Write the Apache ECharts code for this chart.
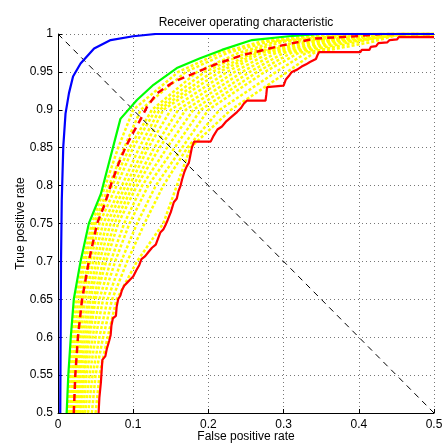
<!DOCTYPE html>
<html>
<head>
<meta charset="utf-8">
<script src="https://cdn.jsdelivr.net/npm/echarts@6/dist/echarts.min.js"></script>
<style>html,body{margin:0;padding:0;background:#fff}#c{width:444px;height:443px}</style>
</head>
<body>
<div id="c"></div>
<script>
const xTicks = [0, 0.1, 0.2, 0.3, 0.4, 0.5];
const yTicks = [0.5, 0.55, 0.6, 0.65, 0.7, 0.75, 0.8, 0.85, 0.9, 0.95, 1];

const bluePts = [[0.003,0.5],[0.004,0.7],[0.005,0.78],[0.007,0.851],[0.010,0.895],[0.0146,0.922],[0.020,0.944],[0.030,0.961],[0.048,0.981],[0.070,0.992],[0.10,0.997],[0.13,1.0],[0.5,1.0]];
const greenPts = [[0.0115,0.5],[0.0137,0.55],[0.017,0.6],[0.021,0.65],[0.030,0.70],[0.041,0.75],[0.057,0.789],[0.083,0.888],[0.105,0.913],[0.127,0.933],[0.158,0.955],[0.189,0.968],[0.218,0.979],[0.258,0.992],[0.307,0.997],[0.35,1.0],[0.5,1.0]];
const redDashPts = [[0.021,0.5],[0.023,0.55],[0.0265,0.6],[0.032,0.65],[0.041,0.70],[0.052,0.75],[0.062,0.775],[0.071,0.803],[0.081,0.83],[0.090,0.851],[0.100,0.870],[0.109,0.886],[0.119,0.905],[0.132,0.922],[0.154,0.937],[0.176,0.946],[0.212,0.961],[0.245,0.972],[0.298,0.985],[0.342,0.994],[0.395,0.997],[0.43,1.0],[0.5,1.0]];
const redPts = [[0.054,0.5],[0.055,0.52],[0.057,0.54],[0.058,0.555],[0.059,0.57],[0.063,0.575],[0.065,0.585],[0.068,0.595],[0.070,0.603],[0.071,0.615],[0.073,0.625],[0.077,0.628],[0.078,0.64],[0.080,0.65],[0.083,0.655],[0.085,0.662],[0.088,0.668],[0.092,0.672],[0.096,0.676],[0.100,0.68],[0.104,0.688],[0.108,0.695],[0.111,0.703],[0.116,0.707],[0.120,0.712],[0.125,0.718],[0.130,0.722],[0.133,0.73],[0.136,0.738],[0.140,0.742],[0.143,0.748],[0.146,0.755],[0.150,0.765],[0.154,0.778],[0.158,0.783],[0.160,0.792],[0.163,0.800],[0.165,0.808],[0.168,0.818],[0.171,0.825],[0.174,0.830],[0.176,0.840],[0.178,0.850],[0.181,0.858],[0.203,0.858],[0.207,0.866],[0.212,0.874],[0.218,0.878],[0.223,0.884],[0.231,0.891],[0.238,0.897],[0.243,0.902],[0.247,0.908],[0.251,0.912],[0.276,0.912],[0.277,0.92],[0.278,0.93],[0.300,0.932],[0.303,0.94],[0.308,0.946],[0.311,0.950],[0.318,0.953],[0.324,0.957],[0.330,0.960],[0.335,0.963],[0.343,0.967],[0.345,0.972],[0.347,0.976],[0.402,0.976],[0.404,0.979],[0.414,0.979],[0.416,0.983],[0.423,0.984],[0.426,0.988],[0.438,0.989],[0.441,0.992],[0.451,0.993],[0.453,0.996],[0.5,0.996]];
const diagPts = [[0,1],[0.5,0.5]];

const yellowLevels = [0.5,0.55,0.6,0.65,0.7,0.75,0.8,0.85,0.9,0.95,0.975,0.99,1.0];
const yellowX = [
  [0.013,0.016,0.019,0.024,0.033,0.045,0.063,0.080,0.100,0.160,0.215,0.270,0.36],
  [0.016,0.019,0.022,0.027,0.036,0.048,0.068,0.088,0.110,0.170,0.225,0.28,0.38],
  [0.018,0.021,0.025,0.030,0.040,0.050,0.072,0.095,0.125,0.185,0.24,0.29,0.40],
  [0.020,0.023,0.027,0.033,0.043,0.055,0.078,0.100,0.130,0.195,0.25,0.30,0.41],
  [0.022,0.026,0.030,0.036,0.047,0.060,0.085,0.108,0.135,0.205,0.26,0.32,0.42],
  [0.024,0.028,0.033,0.040,0.051,0.065,0.090,0.115,0.140,0.215,0.265,0.33,0.43],
  [0.026,0.030,0.036,0.043,0.055,0.070,0.095,0.120,0.150,0.225,0.27,0.34,0.44],
  [0.028,0.033,0.039,0.047,0.060,0.075,0.100,0.128,0.160,0.235,0.28,0.35,0.44],
  [0.030,0.035,0.042,0.050,0.064,0.080,0.105,0.135,0.170,0.245,0.29,0.36,0.45],
  [0.033,0.038,0.046,0.055,0.070,0.088,0.112,0.145,0.180,0.255,0.30,0.37,0.45],
  [0.036,0.042,0.050,0.060,0.076,0.095,0.120,0.155,0.190,0.265,0.31,0.38,0.46],
  [0.040,0.046,0.055,0.066,0.084,0.105,0.130,0.165,0.200,0.275,0.32,0.39,0.46],
  [0.045,0.050,0.060,0.072,0.092,0.115,0.140,0.172,0.215,0.29,0.33,0.40,0.46],
  [0.050,0.055,0.066,0.078,0.105,0.140,0.158,0.176,0.230,0.305,0.34,0.42,0.455]
];

const FONT = 'Liberation Sans, Arial, sans-serif';
const FS = 12;
const series = [];
yellowX.forEach(function (xs) {
  series.push({
    type: 'line', showSymbol: false, silent: true,
    data: xs.map(function (x, i) { return [x, yellowLevels[i]]; }).concat([[0.5, 1.0]]),
    lineStyle: { color: '#ffff00', width: 2.5, type: [3, 2] }
  });
});
series.push({ type: 'line', showSymbol: false, data: diagPts, lineStyle: { color: '#000', width: 1, type: [6, 5] } });
series.push({ type: 'line', showSymbol: false, data: greenPts, lineStyle: { color: '#00ff00', width: 2.2 } });
series.push({ type: 'line', showSymbol: false, data: redDashPts, lineStyle: { color: '#ff0000', width: 2.5, type: [7, 5] } });
series.push({ type: 'line', showSymbol: false, data: redPts, lineStyle: { color: '#ff0000', width: 2.2 } });
series.push({ type: 'line', showSymbol: false, data: bluePts, lineStyle: { color: '#0000ff', width: 2.2 } });

const chart = echarts.init(document.getElementById('c'), null, { renderer: 'canvas' });
chart.setOption({
  animation: false,
  backgroundColor: '#fff',
  title: {
    text: 'Receiver operating characteristic',
    left: 246, top: 17, padding: 0, textAlign: 'center',
    textStyle: { fontFamily: FONT, fontSize: FS, fontWeight: 'normal', color: '#000' }
  },
  grid: { left: 58, right: 10, top: 34, bottom: 30, containLabel: false, outerBoundsMode: 'none' },
  xAxis: {
    type: 'value', min: xTicks[0], max: xTicks[xTicks.length - 1], interval: 0.1,
    name: 'False positive rate', nameLocation: 'middle', nameGap: 18, nameMoveOverlap: false,
    nameTextStyle: { fontFamily: FONT, fontSize: FS, color: '#000' },
    axisLine: { onZero: false, lineStyle: { color: '#000', width: 1 } },
    axisTick: { inside: true, length: 4, lineStyle: { color: '#000' } },
    axisLabel: { fontFamily: FONT, fontSize: FS, color: '#000', margin: 6, formatter: function (v) { return String(+v.toFixed(2)); } },
    splitLine: { show: true, lineStyle: { color: '#777', width: 1, type: [1, 3] } }
  },
  yAxis: {
    type: 'value', min: yTicks[0], max: yTicks[yTicks.length - 1], interval: 0.05,
    name: 'True positive rate', nameLocation: 'middle', nameGap: 31, nameRotate: 90, nameMoveOverlap: false,
    nameTextStyle: { fontFamily: FONT, fontSize: FS, color: '#000' },
    axisLine: { show: true, onZero: false, lineStyle: { color: '#000', width: 1 } },
    axisTick: { show: true, inside: true, length: 4, lineStyle: { color: '#000' } },
    axisLabel: { fontFamily: FONT, fontSize: FS, color: '#000', margin: 5, formatter: function (v) { return String(+v.toFixed(2)); } },
    splitLine: { show: true, lineStyle: { color: '#777', width: 1, type: [1, 3] } }
  },
  series: series
});
</script>
</body>
</html>
